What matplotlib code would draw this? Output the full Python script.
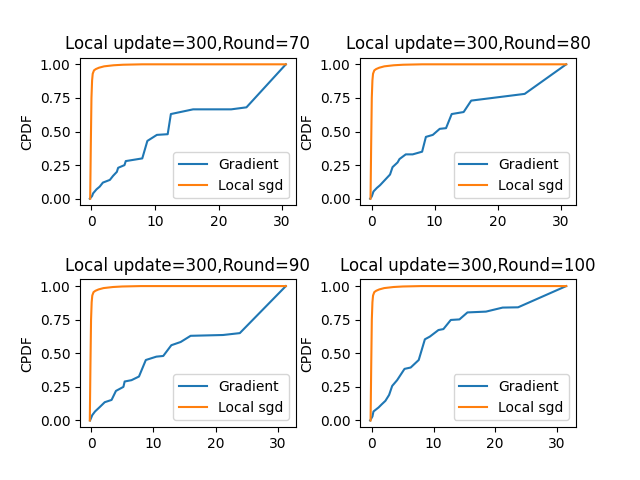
import matplotlib
matplotlib.use('Agg')
import matplotlib.pyplot as plt

rounds = [70, 80, 90, 100]

# Gradient curves (x, cpdf)
grad_x_70 = [-0.26, 0.1, 0.26, 0.8, 1.3, 1.8, 2.9, 3.4, 4.0, 4.2, 5.2, 5.4, 8.0, 8.8, 10.3, 12.0, 12.5, 16.0, 22.0, 24.4, 30.6]
grad_y_70 = [0.0, 0.02, 0.04, 0.07, 0.09, 0.12, 0.14, 0.17, 0.2, 0.23, 0.25, 0.28, 0.30, 0.43, 0.475, 0.48, 0.63, 0.665, 0.665, 0.68, 1.0]

grad_x_80 = [-0.26, 0.0, 0.27, 0.8, 1.3, 1.9, 2.9, 3.3, 4.1, 4.4, 5.4, 6.5, 8.0, 8.6, 9.7, 10.8, 11.8, 12.7, 14.6, 15.8, 24.3, 30.9]
grad_y_80 = [0.0, 0.017, 0.054, 0.08, 0.10, 0.13, 0.18, 0.235, 0.27, 0.295, 0.33, 0.33, 0.35, 0.46, 0.475, 0.52, 0.525, 0.63, 0.645, 0.73, 0.78, 1.0]

grad_x_90 = [-0.16, 0.2, 0.64, 1.4, 2.2, 3.3, 4.0, 5.2, 5.4, 6.5, 7.7, 8.8, 10.5, 11.6, 12.9, 14.4, 16.0, 21.2, 23.9, 31.3]
grad_y_90 = [0.0, 0.04, 0.067, 0.10, 0.136, 0.153, 0.22, 0.25, 0.29, 0.30, 0.327, 0.45, 0.475, 0.48, 0.56, 0.584, 0.63, 0.636, 0.65, 1.0]

grad_x_100 = [-0.27, 0.1, 0.27, 1.1, 1.6, 2.2, 2.8, 3.3, 4.1, 5.3, 6.3, 7.6, 8.6, 9.4, 10.8, 11.6, 12.8, 14.2, 15.5, 18.5, 21.2, 23.7, 31.5]
grad_y_100 = [0.0, 0.03, 0.067, 0.097, 0.12, 0.146, 0.19, 0.257, 0.30, 0.384, 0.394, 0.45, 0.604, 0.624, 0.673, 0.68, 0.748, 0.752, 0.804, 0.81, 0.84, 0.842, 1.0]

# Local sgd curves: almost all mass near zero
sgd_x = [-0.2, -0.1, 0.0, 0.1, 0.2, 0.4, 0.7, 1.2, 2.0, 3.5, 5.0, 8.0]
sgd_y = [0.0, 0.4, 0.75, 0.88, 0.93, 0.955, 0.965, 0.975, 0.985, 0.993, 0.997, 1.0]
sgd_end = [30.6, 30.9, 31.3, 31.5]

grad_x = [grad_x_70, grad_x_80, grad_x_90, grad_x_100]
grad_y = [grad_y_70, grad_y_80, grad_y_90, grad_y_100]

fig, axes = plt.subplots(2, 2, figsize=(6.4, 4.8))
for i, ax in enumerate(axes.flat):
    ax.plot(grad_x[i], grad_y[i], label='Gradient')
    ax.plot(sgd_x + [sgd_end[i]], sgd_y + [1.0], label='Local sgd')
    ax.set_title('Local update=300,Round=%d' % rounds[i])
    ax.set_ylabel('CPDF')
    ax.legend(loc='lower right')

plt.subplots_adjust(wspace=0.3, hspace=0.5)
plt.savefig('out.png', dpi=100)
